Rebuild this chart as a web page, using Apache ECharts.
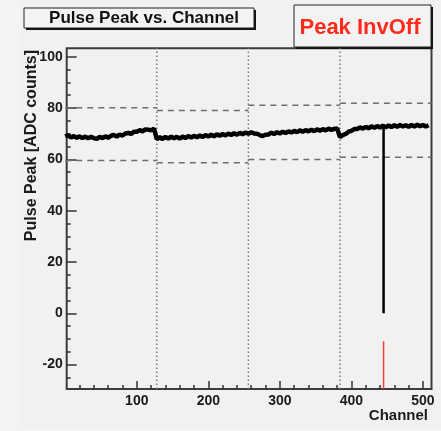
<!DOCTYPE html>
<html><head><meta charset="utf-8">
<script src="https://cdn.jsdelivr.net/npm/echarts@6/dist/echarts.min.js"></script>
<style>html,body{margin:0;padding:0;background:#f3f3f3}#c{width:441px;height:431px}</style>
</head><body><div id="c"></div>
<script>
// Pulse peak per channel (every 4th channel, starting at 0)
const channelStep = 4;
const peak = [
  68.9, 69.4, 68.5, 69.1, 68.4, 69.0, 68.3, 68.9,
  68.2, 68.8, 68.3, 68.0, 68.8, 68.3, 69.0, 68.4,
  69.2, 69.5, 68.9, 69.7, 69.3, 70.1, 70.3, 69.9,
  70.8, 70.8, 71.4, 70.9, 71.7, 71.6, 71.3, 72.0,
  67.9, 68.7, 67.9, 68.8, 68.1, 68.9, 68.2, 68.8,
  68.1, 68.9, 68.3, 69.1, 68.5, 69.2, 68.6, 69.3,
  68.7, 69.5, 68.9, 69.6, 69.0, 69.8, 69.2, 69.9,
  69.3, 70.1, 69.5, 70.2, 69.6, 70.4, 69.8, 70.5,
  70.0, 70.6, 70.1, 70.0, 69.5, 69.1, 69.6, 69.7,
  70.4, 69.9, 70.6, 70.1, 70.8, 70.3, 70.9, 70.5,
  71.1, 70.6, 71.3, 70.8, 71.4, 70.9, 71.6, 71.0,
  71.7, 71.2, 71.8, 71.3, 72.0, 71.5, 71.9, 72.1,
  68.7, 69.5, 69.9, 70.8, 71.1, 71.8, 71.8, 72.5,
  72.0, 72.7, 72.1, 72.9, 72.3, 73.0, 72.4, 73.1,
  72.5, 73.2, 72.6, 73.3, 72.7, 73.4, 72.8, 73.3,
  72.7, 73.4, 72.8, 73.5, 72.9, 73.4, 72.8, 73.3
];
const spikeChannel = 445, spikeTop = 72.7, spikeBottom = 0;
const redChannel = 445, redTop = -10.9;
const dividers = [128, 256, 384];
const bandEdges = [0, 128, 256, 384, 512];
const upperLevels = [80.1, 79.1, 81.1, 81.9];
const lowerLevels = [59.6, 58.7, 60.0, 60.8];
const xMajor = [100, 200, 300, 400, 500];
const xMinor = [20,40,60,80,120,140,160,180,220,240,260,280,320,340,360,380,420,440,460,480];
const yMajor = [-20, 0, 20, 40, 60, 80, 100];
const yMinor = [-25,-15,-10,-5,5,10,15,25,30,35,45,50,55,65,70,75,85,90,95];
const xMin = 2, xMax = 512, yMin = -29.5, yMax = 103.3;

const FONT = '"Liberation Sans", Arial, Helvetica, sans-serif';
const series = [];
for (let i = 0; i < upperLevels.length; i++) {
  [upperLevels[i], lowerLevels[i]].forEach(lv => series.push({
    type: 'line', showSymbol: false, silent: true,
    data: [[bandEdges[i], lv], [bandEdges[i+1], lv]],
    lineStyle: { color: '#6e6e6e', width: 1.5, type: [6, 5] }
  }));
}
dividers.forEach(d => series.push({
  type: 'line', showSymbol: false, silent: true,
  data: [[d, yMin], [d, yMax]],
  lineStyle: { color: '#7a7a7a', width: 1.5, type: [1.5, 2.5] }
}));
series.push({
  type: 'line', showSymbol: false, silent: true,
  data: peak.map((v, i) => [i * channelStep, v]),
  lineStyle: { color: '#000', width: 4.5 }
});
series.push({
  type: 'line', showSymbol: false, silent: true,
  data: [[spikeChannel, spikeTop], [spikeChannel, spikeBottom]],
  lineStyle: { color: '#000', width: 2.5 }
});
series.push({
  type: 'line', showSymbol: false, silent: true,
  data: [[redChannel, redTop], [redChannel, yMin]],
  lineStyle: { color: '#f04040', width: 1.5 }
});

const lbl = { fontFamily: FONT, fontSize: 14, fontWeight: 'bold', color: '#1a1a1a' };
const chart = echarts.init(document.getElementById('c'), null, { renderer: 'canvas' });
chart.setOption({
  animation: false,
  backgroundColor: '#f3f3f3',
  grid: { left: 66.7, right: 9.5, top: 48.3, bottom: 42, show: true, borderColor: '#3c3c3c', borderWidth: 2, backgroundColor: 'transparent' },
  xAxis: [
    { type: 'value', min: xMin, max: xMax, position: 'bottom',
      axisLine: { show: false, onZero: false }, splitLine: { show: false },
      axisTick: { show: true, inside: true, length: 8, customValues: xMajor, lineStyle: { color: '#333', width: 1.5 } },
      axisLabel: Object.assign({ customValues: xMajor, margin: 5 }, lbl) },
    { type: 'value', min: xMin, max: xMax, position: 'bottom',
      axisLine: { show: false, onZero: false }, splitLine: { show: false }, axisLabel: { show: false },
      axisTick: { show: true, inside: true, length: 4, customValues: xMinor, lineStyle: { color: '#333', width: 1.5 } } }
  ],
  yAxis: [
    { type: 'value', min: yMin, max: yMax, position: 'left',
      axisLine: { show: false, onZero: false }, splitLine: { show: false },
      axisTick: { show: true, inside: true, length: 10, customValues: yMajor, lineStyle: { color: '#333', width: 1.5 } },
      axisLabel: Object.assign({ customValues: yMajor, margin: 4 }, lbl) },
    { type: 'value', min: yMin, max: yMax, position: 'left',
      axisLine: { show: false, onZero: false }, splitLine: { show: false }, axisLabel: { show: false },
      axisTick: { show: true, inside: true, length: 4, customValues: yMinor, lineStyle: { color: '#333', width: 1.5 } } }
  ],
  series: series,
  graphic: [
    { type: 'rect', z: -10, shape: { x: 20, y: 0, width: 421, height: 428 }, style: { fill: '#f1f1f1' } },
    // title box
    { type: 'rect', shape: { x: 26, y: 10, width: 230, height: 20 }, style: { fill: '#111' } },
    { type: 'rect', shape: { x: 24, y: 8, width: 230, height: 20 }, style: { fill: '#f3f3f3', stroke: '#222', lineWidth: 1 } },
    { type: 'text', x: 144, y: 18.5, style: { text: 'Pulse Peak vs. Channel', font: 'bold 17px ' + FONT, fill: '#111', align: 'center', verticalAlign: 'middle' } },
    // Peak InvOff box
    { type: 'rect', shape: { x: 296, y: 7, width: 137, height: 42 }, style: { fill: '#111' } },
    { type: 'rect', shape: { x: 294, y: 5, width: 137, height: 42 }, style: { fill: '#f3f3f3', stroke: '#222', lineWidth: 1 } },
    { type: 'text', x: 360, y: 28, style: { text: 'Peak InvOff', font: 'bold 22px ' + FONT, fill: '#ff2a1a', align: 'center', verticalAlign: 'middle' } },
    // axis titles
    { type: 'text', x: 32, y: 50, rotation: Math.PI / 2, style: { text: 'Pulse Peak [ADC counts]', font: 'bold 16px ' + FONT, fill: '#1a1a1a', align: 'right', verticalAlign: 'middle' } },
    { type: 'text', x: 428, y: 416, style: { text: 'Channel', font: 'bold 15px ' + FONT, fill: '#1a1a1a', align: 'right', verticalAlign: 'middle' } }
  ]
});
</script></body></html>
